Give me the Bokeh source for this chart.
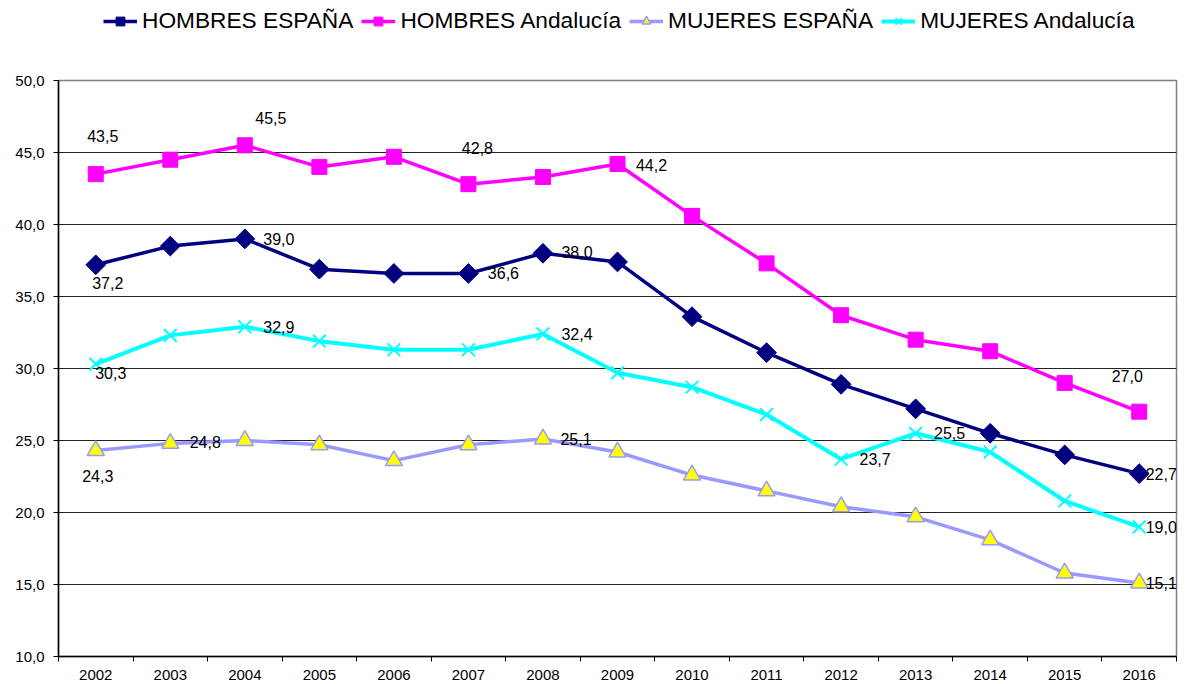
import numpy as np
from bokeh.plotting import figure
from bokeh.layouts import column
from bokeh.models import (ColumnDataSource, FixedTicker, Legend, LegendItem,
                          LabelSet, Range1d)
from bokeh.core.properties import value
from bokeh.embed import file_html
from bokeh.resources import INLINE

# ---------------- data ----------------
years = [2002, 2003, 2004, 2005, 2006, 2007, 2008, 2009,
         2010, 2011, 2012, 2013, 2014, 2015, 2016]
year_labels = [str(y) for y in years]

hombres_espana = [37.2, 38.5, 39.0, 36.9, 36.6, 36.6, 38.0, 37.4,
                  33.6, 31.1, 28.9, 27.2, 25.5, 24.0, 22.7]
hombres_andalucia = [43.5, 44.5, 45.5, 44.0, 44.7, 42.8, 43.3, 44.2,
                     40.6, 37.3, 33.7, 32.0, 31.2, 29.0, 27.0]
mujeres_espana = [24.3, 24.8, 25.0, 24.7, 23.6, 24.7, 25.1, 24.2,
                  22.6, 21.5, 20.4, 19.7, 18.1, 15.8, 15.1]
mujeres_andalucia = [30.3, 32.3, 32.9, 31.9, 31.3, 31.3, 32.4, 29.7,
                     28.7, 26.8, 23.7, 25.5, 24.2, 20.8, 19.0]

series_names = ["HOMBRES ESPAÑA", "HOMBRES Andalucía",
                "MUJERES ESPAÑA", "MUJERES Andalucía"]

y_ticks = [10, 15, 20, 25, 30, 35, 40, 45, 50]
y_tick_labels = ["10,0", "15,0", "20,0", "25,0", "30,0", "35,0", "40,0", "45,0", "50,0"]

# which points carry a data label (indices into years)
labeled_he = [0, 2, 5, 6, 14]
labeled_ha = [0, 2, 5, 7, 14]
labeled_me = [0, 1, 6, 14]
labeled_ma = [0, 2, 6, 10, 11, 14]

# label offsets in screen pixels (dx right, dy up) -- style only
offs_he = [(12, -18), (34, 0), (35, 0), (34, 1), (22, 0)]
offs_ha = [(7, 38), (26, 27), (9, 36), (34, -1), (-12, 36)]
offs_me = [(2, -25), (35, 1), (33, 0), (22, 0)]
offs_ma = [(15, -9), (34, 0), (34, 0), (34, 0), (34, 0), (22, 0)]

FONT = "Liberation Sans"

styles = [
    dict(col="he", color="#000080", lw=3.5, marker="square", size=14, angle=np.pi / 4,
         fill="#000080", mline="#000080", mlw=1),
    dict(col="ha", color="#FF00FF", lw=3.5, marker="square", size=15, angle=0,
         fill="#FF00FF", mline="#FF00FF", mlw=1),
    dict(col="me", color="#9999FF", lw=3.5, marker="triangle", size=17, angle=0,
         fill="#FFFF00", mline="#9999FF", mlw=1.5),
    dict(col="ma", color="#00FFFF", lw=4, marker="x", size=18, angle=0,
         fill="#00FFFF", mline="#00FFFF", mlw=2),
]

# ---------------- legend strip ----------------
top = figure(width=1181, height=44, output_backend="svg", toolbar_location=None,
             x_range=Range1d(0, 1), y_range=Range1d(0, 1), min_border=0,
             background_fill_color="white", border_fill_color="white")
top.axis.visible = False
top.grid.visible = False
top.outline_line_color = None
# a point kept outside the visible range, so the legend has real renderers to sample
offscreen = ColumnDataSource(dict(x=[-10], y=[-10]))
items = []
for name, st in zip(series_names, styles):
    ln = top.line("x", "y", source=offscreen, line_color=st["color"], line_width=st["lw"])
    sc = top.scatter("x", "y", source=offscreen, marker=st["marker"], size=st["size"],
                     angle=st["angle"], fill_color=st["fill"], line_color=st["mline"],
                     line_width=st["mlw"])
    items.append(LegendItem(label=name, renderers=[ln, sc]))
legend = Legend(items=items, orientation="horizontal", location=(45, 10),
                label_text_font=FONT, label_text_font_size="22.7px",
                label_text_color="black", glyph_width=34, glyph_height=22,
                label_standoff=5, spacing=8, padding=0, margin=0,
                border_line_color=None, background_fill_alpha=0)
top.add_layout(legend, "center")

# ---------------- main chart ----------------
p = figure(frame_width=1118, frame_height=576, output_backend="svg", toolbar_location=None,
           x_range=Range1d(2001.5, 2016.5), y_range=Range1d(10, 50),
           min_border_left=58, min_border_right=5, min_border_top=36,
           min_border_bottom=26, background_fill_color="white",
           border_fill_color="white")
p.outline_line_color = "#808080"
p.outline_line_width = 1.5

src = ColumnDataSource(dict(x=years, he=hombres_espana, ha=hombres_andalucia,
                            me=mujeres_espana, ma=mujeres_andalucia))

p.xgrid.visible = False
p.ygrid.ticker = FixedTicker(ticks=y_ticks[1:-1])
p.ygrid.grid_line_color = "#222222"
p.ygrid.grid_line_width = 1

xa = p.xaxis[0]
xa.ticker = FixedTicker(ticks=years, minor_ticks=[y - 0.5 for y in years] + [years[-1] + 0.5])
xa.major_label_overrides = {y: l for y, l in zip(years, year_labels)}
xa.major_tick_line_color = None
xa.major_tick_out = 0
xa.minor_tick_out = 5
xa.minor_tick_in = 0
xa.minor_tick_line_color = "black"
xa.axis_line_color = "black"
xa.axis_line_width = 1.5
xa.major_label_standoff = 8
xa.major_label_text_font = FONT
xa.major_label_text_font_size = "15px"
xa.major_label_text_color = "black"

ya = p.yaxis[0]
ya.ticker = FixedTicker(ticks=y_ticks)
ya.major_label_overrides = {v: l for v, l in zip(y_ticks, y_tick_labels)}
ya.major_tick_out = 5
ya.major_tick_in = 0
ya.minor_tick_line_color = None
ya.major_tick_line_color = "black"
ya.axis_line_color = "black"
ya.axis_line_width = 1.5
ya.major_label_standoff = 9
ya.major_label_text_font = FONT
ya.major_label_text_font_size = "15px"
ya.major_label_text_color = "black"

for st in styles:
    p.line("x", st["col"], source=src, line_color=st["color"], line_width=st["lw"])
    p.scatter("x", st["col"], source=src, marker=st["marker"], size=st["size"],
              angle=st["angle"], fill_color=st["fill"], line_color=st["mline"],
              line_width=st["mlw"])

series_vals = [hombres_espana, hombres_andalucia, mujeres_espana, mujeres_andalucia]
labeled = [labeled_he, labeled_ha, labeled_me, labeled_ma]
offsets = [offs_he, offs_ha, offs_me, offs_ma]
lx, ly, lt, ldx, ldy = [], [], [], [], []
for vals, idxs, offs in zip(series_vals, labeled, offsets):
    for i, (dx, dy) in zip(idxs, offs):
        lx.append(years[i])
        ly.append(vals[i])
        lt.append(f"{vals[i]:.1f}".replace(".", ","))
        ldx.append(dx)
        ldy.append(dy)
lsrc = ColumnDataSource(dict(x=lx, y=ly, t=lt, dx=ldx, dy=ldy))
labels = LabelSet(x="x", y="y", text="t", source=lsrc, x_offset="dx", y_offset="dy",
                  text_align="center", text_baseline="middle",
                  text_font=value(FONT), text_font_size=value("16px"),
                  text_color="black")
p.add_layout(labels)

layout = column(top, p, spacing=0)
open("out.html", "w").write(file_html(layout, INLINE))
